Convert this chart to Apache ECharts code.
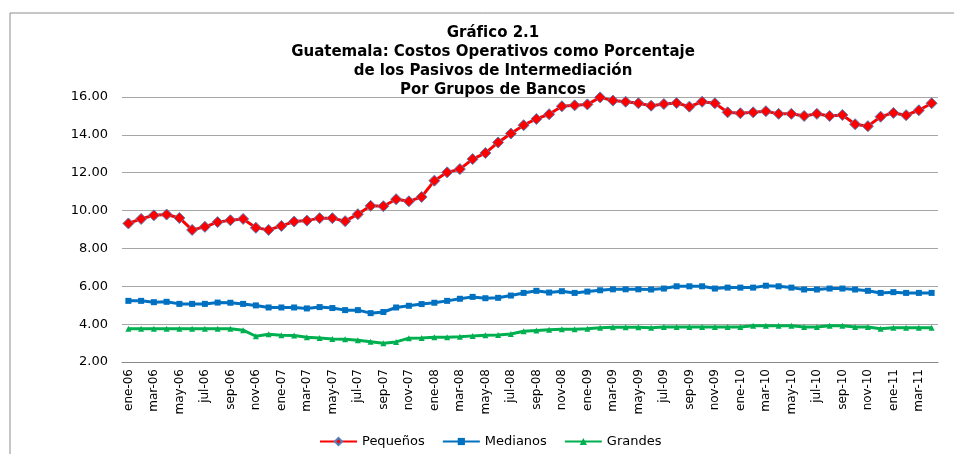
<!DOCTYPE html>
<html lang="es">
  <head>
    <meta charset="UTF-8" />
    <title>Gráfico 2.1</title>
    <style>
      html, body { margin: 0; padding: 0; background: #fff; }
      #main { width: 954px; height: 454px; }
    </style>
  </head>
  <body>
    <div id="main"></div>
    <script src="https://cdn.jsdelivr.net/npm/echarts@6/dist/echarts.min.js"></script>
    <script>
      const myChart = echarts.init(document.getElementById('main'))

      // meses y años del eje x (ene-06 ... abr-11)
      var meses = ['ene', 'feb', 'mar', 'abr', 'may', 'jun', 'jul', 'ago', 'sep', 'oct', 'nov', 'dic']
      var anios = ['06', '07', '08', '09', '10', '11']
      var xData = []
      for (let a = 0; a < anios.length; a++) {
        for (let m = 0; m < 12; m++) {
          if (anios[a] === '11' && m > 3) break
          xData.push(meses[m] + '-' + anios[a])
        }
      }

      var pequenos = [9.32, 9.56, 9.75, 9.79, 9.61, 8.98, 9.14, 9.39, 9.49, 9.56,
        9.09, 8.98, 9.19, 9.42, 9.47, 9.60, 9.60, 9.44, 9.81, 10.25,
        10.23, 10.60, 10.49, 10.72, 11.58, 12.02, 12.19, 12.72, 13.04, 13.60,
        14.07, 14.51, 14.84, 15.09, 15.51, 15.56, 15.61, 15.98, 15.81, 15.75,
        15.67, 15.54, 15.63, 15.68, 15.49, 15.75, 15.67, 15.19, 15.14, 15.19,
        15.25, 15.11, 15.11, 15.00, 15.11, 15.00, 15.05, 14.56, 14.46, 14.96,
        15.16, 15.04, 15.30, 15.67]
      var medianos = [5.23, 5.23, 5.16, 5.18, 5.07, 5.07, 5.07, 5.14, 5.13, 5.07,
        4.99, 4.88, 4.88, 4.88, 4.83, 4.90, 4.85, 4.74, 4.74, 4.58,
        4.64, 4.88, 4.97, 5.06, 5.13, 5.23, 5.34, 5.44, 5.37, 5.39,
        5.51, 5.65, 5.76, 5.67, 5.74, 5.65, 5.72, 5.79, 5.84, 5.84,
        5.84, 5.83, 5.88, 6.00, 6.00, 6.00, 5.88, 5.93, 5.93, 5.93,
        6.03, 6.00, 5.93, 5.83, 5.83, 5.88, 5.88, 5.83, 5.76, 5.65,
        5.69, 5.65, 5.65, 5.65]
      var grandes = [3.76, 3.76, 3.76, 3.76, 3.76, 3.76, 3.76, 3.76, 3.76, 3.68,
        3.36, 3.47, 3.41, 3.40, 3.31, 3.27, 3.22, 3.20, 3.15, 3.07,
        2.99, 3.06, 3.26, 3.27, 3.31, 3.31, 3.33, 3.38, 3.41, 3.43,
        3.48, 3.62, 3.67, 3.71, 3.73, 3.73, 3.76, 3.81, 3.83, 3.83,
        3.83, 3.81, 3.85, 3.85, 3.85, 3.85, 3.85, 3.85, 3.85, 3.92,
        3.92, 3.92, 3.92, 3.85, 3.85, 3.92, 3.92, 3.85, 3.85, 3.76,
        3.81, 3.81, 3.81, 3.81]

      var fuente = 'DejaVu Sans'

      option = {
        backgroundColor: '#ffffff',
        animation: false,
        title: {
          text: 'Gráfico 2.1\nGuatemala: Costos Operativos como Porcentaje\nde los Pasivos de Intermediación\nPor Grupos de Bancos',
          left: 488,
          top: 19,
          textAlign: 'center',
          textStyle: {
            fontFamily: fuente,
            fontWeight: 'bold',
            fontSize: 15,
            lineHeight: 19,
            color: '#000'
          }
        },
        // marco del gráfico
        graphic: [
          {
            type: 'polyline',
            shape: { points: [[10, 460], [10, 13], [960, 13]] },
            style: { stroke: '#8c8c8c', lineWidth: 1, fill: null }
          }
        ],
        legend: {
          bottom: 1,
          left: 314,
          itemWidth: 37,
          itemHeight: 9,
          itemGap: 17,
          textStyle: { fontFamily: fuente, fontSize: 13, color: '#000' },
          data: ['Pequeños', 'Medianos', 'Grandes']
        },
        grid: {
          left: 122,
          right: 16,
          top: 97,
          bottom: 92
        },
        xAxis: {
          type: 'category',
          data: xData,
          boundaryGap: true,
          axisLine: { show: true, lineStyle: { color: '#888888', width: 1 } },
          axisTick: { show: false },
          axisLabel: {
            interval: 1,
            rotate: 90,
            margin: 7,
            fontFamily: fuente,
            fontSize: 12,
            color: '#000'
          }
        },
        yAxis: {
          type: 'value',
          min: 2,
          max: 16,
          interval: 2,
          axisLine: { show: false },
          axisTick: { show: false },
          splitLine: { show: true, lineStyle: { color: '#a6a6a6', width: 1.2 } },
          axisLabel: {
            margin: 14,
            fontFamily: fuente,
            fontSize: 13,
            color: '#000',
            formatter: function (v) { return v.toFixed(2) }
          }
        },
        series: [
          {
            name: 'Pequeños',
            type: 'line',
            data: pequenos,
            symbol: 'diamond',
            symbolSize: 11,
            showAllSymbol: true,
            z: 4,
            lineStyle: { color: '#ff0000', width: 3 },
            itemStyle: { color: '#ff0000', borderColor: '#4f81bd', borderWidth: 1 }
          },
          {
            name: 'Medianos',
            type: 'line',
            data: medianos,
            symbol: 'rect',
            symbolSize: 6,
            showAllSymbol: true,
            z: 3,
            lineStyle: { color: '#0070c0', width: 3 },
            itemStyle: { color: '#0070c0' }
          },
          {
            name: 'Grandes',
            type: 'line',
            data: grandes,
            symbol: 'triangle',
            symbolSize: 6,
            showAllSymbol: true,
            z: 2,
            lineStyle: { color: '#00b050', width: 3 },
            itemStyle: { color: '#00b050' }
          }
        ]
      }

      myChart.setOption(option)
    </script>
  </body>
</html>
